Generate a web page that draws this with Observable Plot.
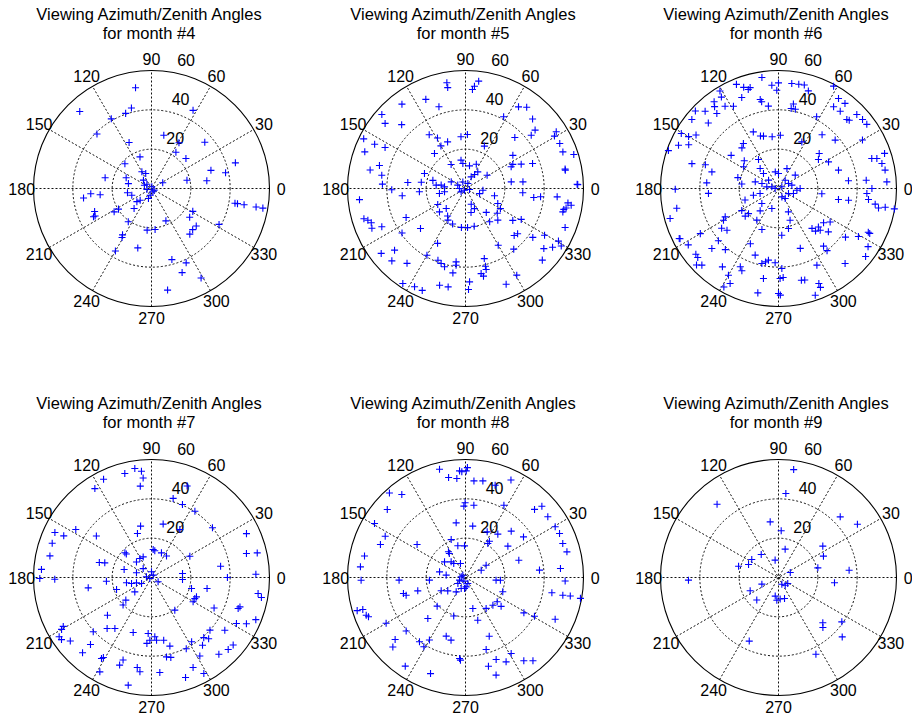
<!DOCTYPE html>
<html>
<head>
<meta charset="utf-8">
<script src="https://cdn.jsdelivr.net/npm/d3@7"></script>
<script src="https://cdn.jsdelivr.net/npm/@observablehq/plot@0.6"></script>
<style>
  html, body { margin: 0; padding: 0; background: #fff; }
  #chart { position: relative; width: 912px; height: 717px; overflow: hidden; background: #fff; }
  #chart svg { position: absolute; }
</style>
</head>
<body>
<div id="chart"></div>
<script>
// Viewing geometry per month: [azimuth (deg), zenith (deg)]
const month4 = [
  [99,51.9],[133,53.5],[104,42.2],[109,40.4],[120,40.9],[62,45],[135,39.2],[77,27.8],[59,27.1],[116,26],
  [41,35.9],[56,22.2],[110,17.1],[41,23.2],[137,18.5],[17,44.6],[17,31.6],[12,38.5],[167,24.2],[120,9.8],
  [111,8.2],[8,28.4],[157,14],[13,18.5],[27,6.4],[168,12],[137,3.2],[79,0.9],[328,1.6],[192,2.4],
  [190,12.4],[187,26.3],[185,31],[188,34.9],[199,10.6],[226,8.3],[253,5.3],[222,10],[350,43.1],[350,44.4],
  [350,47.8],[350,54],[350,57.5],[202,31.2],[206,31.9],[206,32.8],[212,19.8],[212,22.4],[229,13.5],[331,24],
  [323,24.3],[320,29.7],[315,29.6],[310,30.3],[332,38.9],[235,20.6],[294,18],[264,21.3],[275,20.9],[238,27.8],
  [239,29.1],[257,31],[240,36.7],[286,37.6],[295,41.7],[290,45.5],[299,52],[279,52.3],[134,5.9],[259,3.5],
  [292,1.8],[155,4]
];
const month5 = [
  [100,54.6],[100,52.1],[83,55],[85,52.2],[86,50.5],[114,49.6],[127,53.7],[108,43.7],[57,49.5],[53,51.7],
  [138.5,56.8],[141,52.6],[135,45.9],[62,41.3],[46,49.1],[40,46.2],[32,54.4],[30.5,52.5],[154,57.6],[160,54.5],
  [154,51.4],[153,45.9],[124,33],[119,29.4],[111,25.4],[120,25],[131.5,23.8],[88,27.5],[95,26.4],[46,36.1],
  [39,43],[25.5,53.1],[20.6,52.9],[17.4,57.7],[66,23.6],[35,29.4],[27,27],[25.4,25.7],[23.6,30.9],[20.5,36.4],
  [121,14.2],[99,14.6],[96,12.8],[80,11.7],[66,13.5],[53.5,10.5],[57,8.5],[64,6.6],[31.6,12.9],[169,49.4],
  [165,45.3],[171,43.1],[177,42.3],[181,37.5],[186.6,32.4],[174,29.5],[172,22.7],[184,23.5],[166,17.1],[173.5,15],
  [172,12.5],[175.5,10.7],[155,8],[160,22.2],[156.5,4.3],[112,3.6],[65,2.8],[180,3.1],[239,1],[346,2.1],
  [217.6,2.8],[191,13.5],[189,10.8],[340,7.6],[354.5,8.9],[346,15.2],[8.3,23.5],[6.6,29.4],[355.7,29.2],[352.5,35],
  [353.7,38.4],[354.8,46.8],[11,51.6],[10.4,51.6],[2.2,56.8],[2,57.1],[186,54.2],[196.6,53.9],[198,52.2],[200,51],
  [203,51.7],[204.6,46.8],[215,39.4],[206,33.6],[221.6,30.6],[210,16.3],[226,14.1],[222,17.8],[237,16.7],[241,18.4],
  [250,19.2],[264,19.9],[273,19.9],[283,19.7],[290,8.5],[283,12.5],[294,11.2],[311,16.1],[306,20.9],[335,18.1],
  [330,20.5],[315.6,23],[322,20.5],[326,29],[331,32.4],[316,34.4],[319,35.1],[324,42.3],[329.4,46.7],[322.5,50.2],
  [326,53.4],[330.5,54.3],[329,56.8],[317,53.4],[338.6,54.4],[348,51.1],[349,52.1],[351,54.4],[352,52.6],[346.5,50.9],
  [217.6,54.1],[224.5,52.5],[221,47.8],[232,48.3],[236.6,57.9],[242.6,56.3],[247,56.3],[240,39.2],[243,31.3],[249,39.1],
  [252,40.1],[255,41.2],[261.5,43.4],[263,39.3],[262.7,37.6],[255,50.9],[260,50.8],[272.5,47.5],[271.7,51.4],[285,36.9],
  [284.4,40.8],[284.3,42.5],[281.6,45.5],[280.4,44],[300,33.3],[308.5,39.4],[300.6,51.2],[293,52.9]
];
const month6 = [
  [98.5,57.1],[112,57.1],[109,54.4],[105.7,53.3],[107,52.6],[93.7,52.6],[90,53.7],[91,50],[82.8,53.8],[79,54],
  [76,54.2],[73,51.9],[121,57.8],[122,54.8],[126.6,54.9],[128,52.8],[129.4,49.4],[123,49.9],[118.7,47.7],[112,49.9],
  [101.6,46.2],[101,44.9],[97,42.2],[80,43.6],[78,41.2],[81,41.2],[61.7,59.1],[56.3,55],[52,54.9],[56,50.1],
  [51.4,50.3],[45.3,49.4],[44,50],[43.4,54.8],[39.4,55.3],[36,55.5],[62,41.3],[137,57.8],[133.5,54.2],[141.5,56.3],
  [137,48.8],[150.5,56.8],[150,52.8],[147,50],[156.6,55.4],[154,50.8],[161,59.2],[164,45.8],[114,31.5],[109,28.2],
  [106,27.7],[97,26.5],[88,27.1],[63.4,26.5],[128,29],[132,27.8],[51,35.2],[40.5,37.9],[30,49.3],[17.8,49.8],
  [17,52.3],[18.3,56.8],[13.6,54.1],[9.8,55],[3.5,55.2],[145,29.4],[162,39.1],[166,34.9],[175.5,36.6],[184,35.7],
  [141,22.4],[148,20.9],[124.6,17.9],[132.5,13.8],[135,10.8],[101,8.6],[90,7.6],[67,11],[38.7,10.9],[40.7,27.3],
  [28,28.8],[36,25.1],[17,31.9],[6.3,35.8],[5.4,44.8],[0,47.5],[356.8,45],[353,46.1],[350.8,49.8],[349,51.8],
  [350,55.1],[350,59.8],[165,21.4],[173,18.8],[164,12.3],[163,8.8],[172,6],[166,3.5],[180,1.7],[27,1.9],
  [26.6,5.7],[14,7],[354.8,9.4],[0,11],[199,18],[195,13.2],[195,9.7],[222,11.4],[251.6,10.7],[292,4.6],
  [304,6.1],[333,5.7],[341.6,8],[353,22.2],[349.6,31],[350.5,36.1],[180.4,52.5],[191,52.7],[195.5,57.2],[206.7,56.5],
  [207,56.2],[212,54.1],[218.5,53.7],[220.5,54],[223,57],[225,55.1],[210,45.9],[222,45.6],[221,40.5],[229,41.2],
  [210,32.3],[208,30.7],[215,35.3],[219,33.7],[211,21.8],[220,19.9],[219.7,22],[235.6,19.5],[243,31.5],[250.7,35.9],
  [257.5,39.1],[260,37.9],[262,36.8],[267.4,37.8],[272.4,40.7],[271,45.8],[273,45.3],[270,53.4],[271,54.2],[258.8,54.1],
  [260.5,46.4],[234.4,49],[244,44.3],[246,45.8],[240,50.9],[243,54.2],[241,57.3],[293,12.9],[290,17.2],[284,21],
  [274,23.8],[290,32.4],[284,48.1],[286,48.4],[296.6,43.6],[293,52.5],[293,54.6],[289,57.4],[308,37.2],[308,40.1],
  [310,26.5],[316,28.2],[322.7,28.8],[327,31.3],[315,30],[311,28.7],[319,33.6],[324,42.1],[329,47.4],[334,50.8],
  [333.8,51.7],[327,54.3],[322,56.2],[311.6,51],[230.6,14.7],[248,22.5],[140,6.6],[51,5.4]
];
const month7 = [
  [98.7,56.1],[95.4,54.3],[94.8,50.8],[97,46.8],[104.4,54.6],[116,55.6],[122.5,53.6],[68.7,49.9],[74.7,41.7],[67,40.3],
  [56.8,40.3],[77.7,27.8],[59.4,28.3],[102,26.7],[107.7,23.5],[143,35.1],[147.6,45.6],[155,54.2],[154.6,49.4],[161,53.4],
  [168,52.8],[175.8,56.1],[180.5,56.8],[181,49.2],[39.2,40],[24.8,53.2],[14.2,49.8],[13.1,55.2],[9.3,35.6],[0,38.6],
  [1.8,53.1],[351.5,54.8],[349.7,56.8],[29,22.3],[7.4,15.9],[356.3,15.8],[86.6,14.3],[83,13.7],[68,13.5],[55,13.3],
  [137,18.5],[137,17.5],[121.6,11.3],[112,11.3],[134,11],[164,27.6],[162.6,24.9],[163.7,14.5],[162.7,8],[133,6.2],
  [90,2.9],[54.5,1.5],[211,1],[172,2.6],[327,4],[211,5.9],[192,13],[196.7,10.6],[199.6,8.1],[220.7,11.2],
  [184.7,23],[189.3,32.6],[199,18.8],[221.4,17.4],[224,20.1],[344.6,21.1],[329.7,24.5],[334,24.5],[336.7,24.9],[348.8,28.8],
  [334,35.4],[340.3,46.8],[341.6,47.4],[305.5,20.4],[220.6,29.5],[229,34.4],[234.3,31.9],[251.6,29.5],[223,40.5],[209,51.3],
  [210,52.8],[212.7,55.8],[214.6,55.6],[218,52.4],[227.5,51.9],[227.7,46.1],[239,47.5],[238.3,48.4],[241.3,54.7],[250,47.4],
  [251,44.4],[257.8,56],[261,46.3],[263,48.3],[266.6,28.5],[268.5,31.9],[266,33.6],[273.2,30.2],[274.6,32],[281,32.5],
  [285,36.1],[280.7,41.1],[283.6,41.8],[275,48.5],[296,40.3],[302,38.5],[307,43.1],[301.6,46.9],[311,40.5],[313,42.6],
  [318,40],[324.3,45.9],[331.6,49.1],[334,53.7],[338,57.2],[316.8,53.5],[320.4,53.9],[311.3,51.9],[294.8,50.4],[288.8,53.7],
  [298.6,55.6]
];
const month8 = [
  [103.5,56.6],[93.2,54.3],[92,53.8],[89,55.9],[89.6,54.2],[99.6,51.6],[95,50.5],[85,49.3],[79.8,49.9],[72.2,49.3],
  [65,54.7],[132,57.8],[127.5,53.2],[139,52.7],[90.3,38],[91.3,36.3],[83.4,37],[62,41.6],[44.6,49.3],[43,53.1],
  [36.4,52],[149.3,53.8],[99.7,28.2],[82,26.4],[64.6,25.7],[53.3,27.5],[45.4,33.1],[35,36],[29.5,52.4],[25.1,52.8],
  [19.3,52.4],[14.2,53.2],[152.8,45.9],[158.8,46.4],[168,52.5],[174.2,53.7],[181.5,53.1],[145.7,29.8],[110.7,20.6],[103.6,16.6],
  [91.8,16.1],[123.5,15.7],[124,14.7],[143.3,13.3],[132.5,10.8],[130,9.3],[109.7,7.6],[167.7,13.5],[173,9.9],[184.2,18.4],
  [182.3,33.8],[194.5,32.6],[196.6,31.5],[195.6,25.2],[208.7,14.1],[217,11.3],[237,8.7],[248.5,6],[265,5.6],[204,3.3],
  [171,2.2],[139,1.8],[218,4.9],[25,8.8],[30.8,12.2],[56.7,20.7],[56.6,22.1],[36.5,26.8],[18,28.5],[5.7,37.8],
  [5.4,48.5],[358,50.7],[355,15.6],[355.6,17.8],[339,20.3],[322.5,20.3],[314.7,19.8],[321,23.3],[303.7,18.9],[283.3,16.2],
  [286,22.6],[253,20.5],[225.3,20.5],[227.4,28.3],[350,44.6],[349.7,50.3],[350,54.1],[349.7,59.4],[328.8,34.7],[330.7,40.2],
  [335,50.3],[197,57.6],[197.3,54.7],[200.8,54],[202,53.2],[210,46.6],[221.4,47.7],[223.7,51.1],[222,40.6],[235.8,54.5],
  [234.4,40.2],[239,41.1],[240,36.7],[250,52],[251.8,31.4],[257,32.7],[265.8,41.3],[266.5,42.1],[292,32.2],[286,38.1],
  [284.5,46.6],[290.5,44.5],[287.4,52],[295.7,47.6],[301,45.1],[305,51.7],[309,54.5],[246,2],[274,4.8],[291,3.3]
];
const month9 = [
  [82,55.4],[85,42.9],[130,48.6],[44.5,44],[34,48.4],[98.5,28.6],[86.7,23.8],[76.8,14.8],[35.3,27.6],[25.4,25.3],
  [127,14.6],[146,16.4],[164.2,21.1],[156.6,16.6],[101,9],[13.8,20.6],[5.9,36.1],[23,6.5],[181.7,45.8],[201.8,9.1],
  [205,15.9],[226,15.9],[296.6,3.8],[311,5.2],[327,5.6],[260,9.6],[265.8,11.6],[274.4,11],[286,11.1],[354.6,28.6],
  [325,39.3],[314.4,32.2],[311.6,34],[317,44.3],[296,43.4],[245.3,35.6]
];

const months = [4, 5, 6, 7, 8, 9];
const monthObs = [month4, month5, month6, month7, month8, month9];

// Polar grid: azimuth labels every 30°, zenith rings every 20° out to 60°
const azimuthTicks = [0, 30, 60, 90, 120, 150, 180, 210, 240, 270, 300, 330];
const spokeAngles = [30, 60, 90, 120, 150, 180];
const zenithRings = [20, 40, 60];
const zenithMax = 60;
const ringLabelAngle = 82;

// Panel placement (2 rows x 3 columns)
const panelCenters = [[151.3, 188], [465, 188], [778, 188], [151.3, 577.3], [465, 577.3], [778, 577.3]];

const R = 118;                 // pixel radius of the outer ring
const W = 304, H = 360, CX = 152, CY = 190;
const rad = Math.PI / 180;
const px = (r, a) => r * Math.cos(a * rad);
const py = (r, a) => r * Math.sin(a * rad);
const font = "Helvetica, 'Liberation Sans', Arial, sans-serif";
const gridDash = "2,2";

function polarPanel(month, obs) {
  const pts = obs.map(([az, zen]) => ({az, zen}));
  return Plot.plot({
    width: W,
    height: H,
    margin: 0,
    x: {domain: [-zenithMax, zenithMax], range: [CX - R, CX + R], axis: null},
    y: {domain: [-zenithMax, zenithMax], range: [CY + R, CY - R], axis: null},
    r: {type: "linear", domain: [0, zenithMax], range: [0, R]},
    style: {fontFamily: font, fontSize: "16px", color: "#000", background: "transparent", overflow: "visible"},
    marks: [
      // dotted inner rings
      Plot.dot(zenithRings.filter(z => z < zenithMax), {
        x: 0, y: 0, r: z => z, fill: "none", stroke: "#111", strokeWidth: 1, strokeDasharray: gridDash
      }),
      // dotted spokes across the full diameter
      Plot.link(spokeAngles, {
        x1: a => px(-zenithMax, a), y1: a => py(-zenithMax, a),
        x2: a => px(zenithMax, a), y2: a => py(zenithMax, a),
        stroke: "#111", strokeWidth: 1, strokeDasharray: gridDash
      }),
      // solid outer ring
      Plot.dot([zenithMax], {x: 0, y: 0, r: z => z, fill: "none", stroke: "#000", strokeWidth: 1.1}),
      // azimuth labels
      Plot.text(azimuthTicks, {
        x: a => px(1.1 * zenithMax, a), y: a => py(1.1 * zenithMax, a), text: a => `${a}`,
        textAnchor: "middle", lineAnchor: "middle", dy: 1, fontSize: 16, fill: "#000"
      }),
      // zenith ring labels
      Plot.text(zenithRings, {
        x: z => px(z + 1, ringLabelAngle), y: z => py(z + 1, ringLabelAngle), text: z => `${z}`,
        textAnchor: "start", lineAnchor: "bottom", dx: 9, dy: -4, fontSize: 16, fill: "#000"
      }),
      // observations
      Plot.dot(pts, {
        x: d => px(d.zen, d.az), y: d => py(d.zen, d.az),
        symbol: "plus", r: 2.4, stroke: "#0000ff", strokeWidth: 1.1
      }),
      // title
      Plot.text([`Viewing Azimuth/Zenith Angles\nfor month #${month}`], {
        text: d => d, frameAnchor: "top", dx: -2.5, dy: 40,
        lineAnchor: "bottom", lineHeight: 1.1, fontSize: 16.5, fill: "#000"
      })
    ]
  });
}

const chart = document.getElementById("chart");
months.forEach((m, i) => {
  const svg = polarPanel(m, monthObs[i]);
  const [cx, cy] = panelCenters[i];
  svg.style.left = `${cx - CX}px`;
  svg.style.top = `${cy - CY}px`;
  chart.appendChild(svg);
});
</script>
</body>
</html>
